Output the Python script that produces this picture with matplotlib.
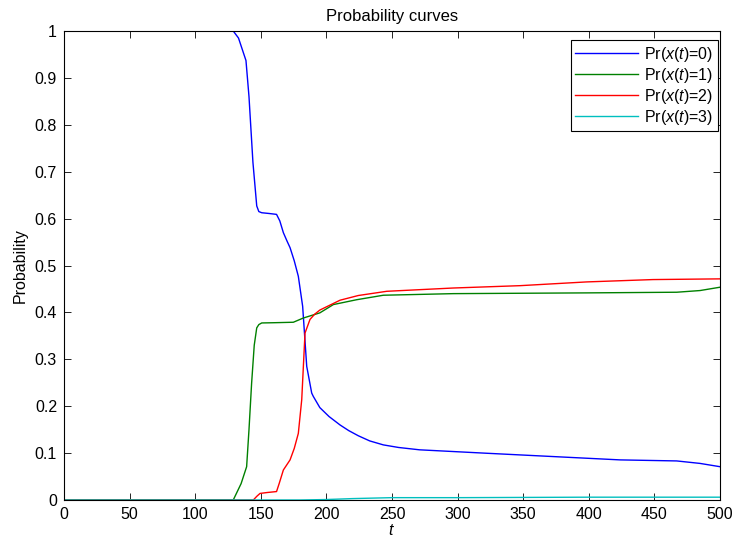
import matplotlib
matplotlib.use("Agg")
import matplotlib.pyplot as plt

plt.rcParams['font.family'] = ['Liberation Sans', 'DejaVu Sans']
plt.rcParams['font.size'] = 11.5
plt.rcParams['mathtext.fontset'] = 'custom'
plt.rcParams['mathtext.rm'] = 'Liberation Sans'
plt.rcParams['mathtext.it'] = 'Liberation Sans:italic'

# Pr(x(t)=0)
t0 = [0, 129, 133, 138.7, 141, 144, 146.9, 148.5, 150.7, 156, 162, 164.5, 167.2, 170,
      172.3, 175.5, 178.6, 181.9, 185, 188.8, 190, 195, 202, 210.4, 217, 224.3, 233,
      243.4, 255, 271, 322, 373, 424, 467, 484.8, 500]
p0 = [1.0, 1.0, 0.985, 0.937, 0.86, 0.72, 0.627, 0.615, 0.6125, 0.611, 0.609, 0.595, 0.570, 0.552,
      0.538, 0.51, 0.477, 0.413, 0.285, 0.228, 0.221, 0.197, 0.178, 0.160, 0.148, 0.137, 0.126,
      0.1175, 0.112, 0.107, 0.0997, 0.0926, 0.0855, 0.0833, 0.078, 0.071]

# Pr(x(t)=1)
t1 = [0, 129, 135, 139.2, 141, 143, 145, 146.9, 148.5, 150.7, 160, 174.8, 182.4, 195,
      205.3, 223, 243.4, 296.7, 398, 467, 484.8, 500]
p1 = [0, 0, 0.035, 0.071, 0.15, 0.249, 0.33, 0.367, 0.374, 0.3775, 0.378, 0.379, 0.388, 0.399,
      0.4167, 0.427, 0.4366, 0.440, 0.4416, 0.443, 0.4466, 0.4537]

# Pr(x(t)=2)
t2 = [0, 144.3, 147, 149.4, 155, 162, 164, 167.2, 172.3, 175.5, 178.6, 181.2, 183.7,
      187.5, 191, 195, 210.4, 224.3, 246, 296.7, 347.6, 398.4, 449, 500]
p2 = [0, 0, 0.008, 0.014, 0.016, 0.018, 0.035, 0.064, 0.0855, 0.11, 0.142, 0.214, 0.356,
      0.385, 0.396, 0.405, 0.426, 0.436, 0.445, 0.452, 0.457, 0.465, 0.470, 0.4715]

# Pr(x(t)=3)
t3 = [0, 180, 200, 220, 250, 300, 400, 500]
p3 = [0, 0, 0.001, 0.003, 0.005, 0.005, 0.006, 0.006]

labels = [r'Pr($x$($t$)=0)', r'Pr($x$($t$)=1)', r'Pr($x$($t$)=2)', r'Pr($x$($t$)=3)']
colors = ['#0000ff', '#008000', '#ff0000', '#00bfbf']

fig = plt.figure(figsize=(7.34, 5.45), dpi=100)
ax = fig.add_axes([64 / 734, 45 / 545, 656 / 734, 469 / 545])

for tt, pp, lab, c in zip([t0, t1, t2, t3], [p0, p1, p2, p3], labels, colors):
    ax.plot(tt, pp, color=c, linewidth=1.0, label=lab)

ax.set_xlim(0, 500)
ax.set_ylim(0, 1)
ax.set_xticks(range(0, 501, 50))
ax.set_yticks([i / 10 for i in range(11)])
ax.set_yticklabels(['0', '0.1', '0.2', '0.3', '0.4', '0.5', '0.6', '0.7', '0.8', '0.9', '1'])
ax.tick_params(direction='in', top=True, right=True, length=5, width=0.6, pad=5)
for s in ax.spines.values():
    s.set_linewidth(0.8)

ax.set_title('Probability curves', fontsize=12, pad=7)
ax.set_xlabel('$t$', labelpad=1)
ax.set_ylabel('Probability', labelpad=5)

leg = ax.legend(loc='upper right', bbox_to_anchor=(654 / 656, 460 / 469), borderaxespad=0,
                fancybox=False, framealpha=1, edgecolor='black',
                handlelength=3.9, borderpad=0.3, labelspacing=0.12, handletextpad=0.4)
leg.get_frame().set_linewidth(0.8)

fig.savefig('out.png', dpi=100)
